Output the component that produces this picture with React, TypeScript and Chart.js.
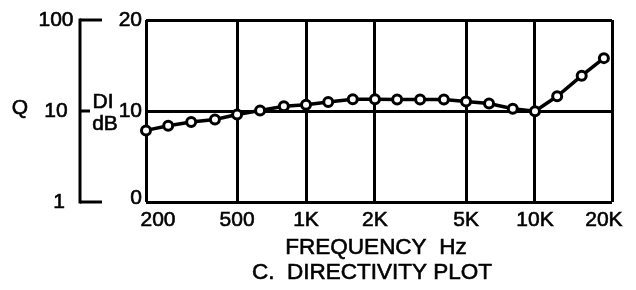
import React, { useEffect, useRef } from "react";
import { Chart, registerables } from "chart.js";

Chart.register(...registerables);

const frequencies = [200, 250, 315, 400, 500, 630, 800, 1000, 1250, 1600, 2000, 2500, 3150, 4000, 5000, 6300, 8000, 10000, 12500, 16000, 20000];
const diValues = [7.87, 8.38, 8.78, 9.07, 9.62, 10.05, 10.52, 10.68, 11.0, 11.29, 11.29, 11.26, 11.26, 11.26, 11.04, 10.82, 10.24, 9.98, 11.62, 13.88, 15.81];

const xTickValues = [200, 500, 1000, 2000, 5000, 10000, 20000];
const xTickLabels = ["200", "500", "1K", "2K", "5K", "10K", "20K"];
const xGridValues = [200, 500, 1000, 2000, 5000, 10000, 21700];
const diTicks = [0, 10, 20];
const qTicks = [1, 10, 100];
const qTickLabels = ["1", "10", "100"];

const xTitle = "FREQUENCY  Hz";
const chartTitle = "C.  DIRECTIVITY PLOT";

const FONT = '"Liberation Sans", Arial, sans-serif';

function txt(ctx: any, s: string, x: number, y: number) {
  ctx.fillText(s, x, y);
  ctx.strokeText(s, x, y);
}

const textPlugin = {
  id: "customText",
  afterDraw(chart: any) {
    const ctx = chart.ctx;
    const xs = chart.scales.x;
    const ys = chart.scales.y;
    ctx.save();
    ctx.fillStyle = "#000";
    ctx.strokeStyle = "#000";
    ctx.lineWidth = 0.6;
    ctx.font = `21px ${FONT}`;
    ctx.textBaseline = "middle";

    // x tick labels
    ctx.textAlign = "center";
    xTickValues.forEach((v, i) => {
      let px = xs.getPixelForValue(v);
      if (i === 0) px += 12;
      txt(ctx, xTickLabels[i], px, 220);
    });
    ctx.font = `22.5px ${FONT}`;
    txt(ctx, xTitle, 376, 248);
    txt(ctx, chartTitle, 372, 273);

    ctx.font = `21px ${FONT}`;
    // DI tick labels
    ctx.textAlign = "right";
    diTicks.forEach((v) => {
      let py = ys.getPixelForValue(v);
      if (v === 0) py -= 4;
      txt(ctx, String(v), 142, py);
    });

    // DI dB label
    ctx.textAlign = "center";
    txt(ctx, "DI", 103, 102);
    txt(ctx, "dB", 105, 124);
    txt(ctx, "Q", 20, 108);

    // Q axis
    const qx = 80;
    const qTop = ys.getPixelForValue(10 * Math.log10(100));
    const qBot = ys.getPixelForValue(10 * Math.log10(1));
    ctx.lineWidth = 3;
    ctx.beginPath();
    ctx.moveTo(qx, qTop - 1.5);
    ctx.lineTo(qx, qBot + 1.5);
    ctx.stroke();
    qTicks.forEach((q, i) => {
      const py = ys.getPixelForValue(10 * Math.log10(q));
      const len = q === 10 ? 10 : 22;
      ctx.lineWidth = 3;
      ctx.beginPath();
      ctx.moveTo(qx, py);
      ctx.lineTo(qx + len, py);
      ctx.stroke();
      ctx.lineWidth = 0.6;
      ctx.textAlign = "center";
      const cx = q === 1 ? 59 : 56;
      txt(ctx, qTickLabels[i], cx, py);
    });
    ctx.restore();
  },
};

export default function App() {
  const ref = useRef<HTMLCanvasElement>(null);
  useEffect(() => {
    if (!ref.current) return;
    const chart = new Chart(ref.current, {
      type: "line",
      data: {
        datasets: [
          {
            data: frequencies.map((f, i) => ({ x: f, y: diValues[i] })),
            borderColor: "#000",
            borderWidth: 3.5,
            pointRadius: 4.5,
            pointBorderWidth: 3,
            pointBackgroundColor: "#fff",
            pointBorderColor: "#000",
            tension: 0,
            clip: false as any,
          },
        ],
      },
      options: {
        animation: false,
        responsive: false,
        maintainAspectRatio: false,
        layout: { padding: { left: 146, right: 24, top: 20, bottom: 88 } },
        plugins: { legend: { display: false }, tooltip: { enabled: false }, title: { display: false } },
        scales: {
          x: {
            type: "logarithmic",
            min: 200,
            max: 21700,
            afterBuildTicks: (scale: any) => {
              scale.ticks = xGridValues.map((v) => ({ value: v }));
            },
            ticks: { display: false },
            grid: { color: "#000", lineWidth: 3, drawTicks: false },
            border: { display: false },
          },
          y: {
            type: "linear",
            min: 0,
            max: 20,
            afterBuildTicks: (scale: any) => {
              scale.ticks = diTicks.map((v) => ({ value: v }));
            },
            ticks: { display: false },
            grid: { color: "#000", lineWidth: 3, drawTicks: false },
            border: { display: false },
          },
        },
      },
      plugins: [textPlugin],
    });
    return () => chart.destroy();
  }, []);
  return (
    <div style={{ position: "fixed", left: 0, top: 0, width: 636, height: 290, background: "#fff" }}>
      <canvas ref={ref} width={636} height={290} />
    </div>
  );
}
